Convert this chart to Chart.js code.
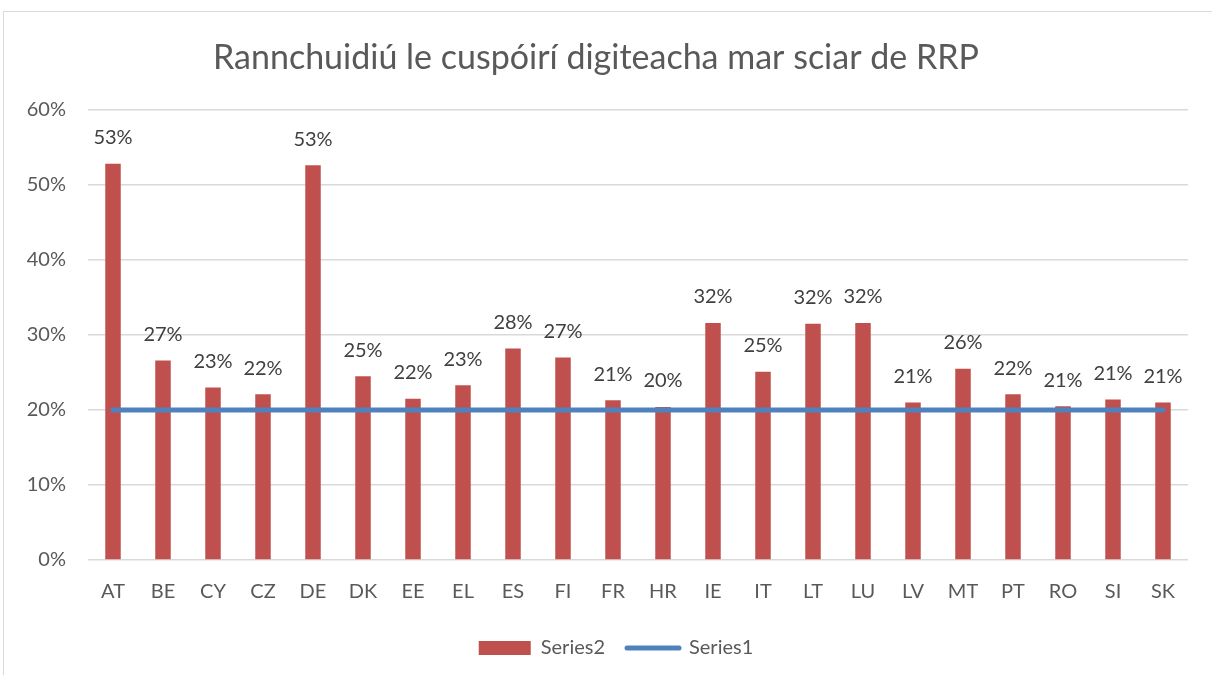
<!DOCTYPE html>
<html>
<head>
<meta charset="utf-8">
<script src="https://cdn.jsdelivr.net/npm/chart.js@4"></script>
<style>
  body { margin: 0; background: #fff; }
  #frame { position: absolute; left: 3px; top: 11px; width: 1212px; height: 670px; border: 1px solid #d9d9d9; }
  #wrap { position: absolute; left: 0; top: 0; width: 1208px; height: 664px; }
</style>
</head>
<body>
<div id="frame"><div id="wrap"><canvas id="chart"></canvas></div></div>
<script>
const countries = ["AT", "BE", "CY", "CZ", "DE", "DK", "EE", "EL", "ES", "FI", "FR",
  "HR", "IE", "IT", "LT", "LU", "LV", "MT", "PT", "RO", "SI", "SK"];
// Series2: digital share per country
const series2 = [0.528, 0.266, 0.230, 0.221, 0.526, 0.245, 0.215, 0.233, 0.282, 0.270, 0.213,
  0.204, 0.316, 0.251, 0.315, 0.316, 0.210, 0.255, 0.221, 0.205, 0.214, 0.210];
// Series1: 20% target
const series1 = [0.20, 0.20, 0.20, 0.20, 0.20, 0.20, 0.20, 0.20, 0.20, 0.20, 0.20,
  0.20, 0.20, 0.20, 0.20, 0.20, 0.20, 0.20, 0.20, 0.20, 0.20, 0.20];
const yTicks = [0, 0.1, 0.2, 0.3, 0.4, 0.5, 0.6];

const FONT = "Lato, 'Open Sans', sans-serif";

// value labels above the bars
const barLabels = {
  id: "barLabels",
  afterLayout(chart) {
    // nudge the legend a bit right, like the original
    chart.legend.left += 20;
    chart.legend.right += 20;
  },
  afterDatasetsDraw(chart) {
    const ctx = chart.ctx;
    const meta = chart.getDatasetMeta(0);
    ctx.save();
    ctx.font = "20px " + FONT;
    ctx.fillStyle = "#404040";
    ctx.textAlign = "center";
    ctx.textBaseline = "middle";
    meta.data.forEach((bar, i) => {
      ctx.fillText(Math.round(series2[i] * 100) + "%", bar.x, bar.y - 26);
    });
    ctx.restore();
  }
};

new Chart(document.getElementById("chart"), {
  data: {
    labels: countries,
    datasets: [
      {
        type: "bar",
        label: "Series2",
        data: series2,
        backgroundColor: "#C0504D",
        borderWidth: 0,
        barPercentage: 0.31,
        categoryPercentage: 1,
        order: 1
      },
      {
        type: "line",
        label: "Series1",
        data: series1,
        borderColor: "#4F81BD",
        backgroundColor: "#4F81BD",
        borderWidth: 5,
        borderCapStyle: "round",
        pointRadius: 0,
        pointHoverRadius: 0,
        order: 0
      }
    ]
  },
  options: {
    responsive: true,
    maintainAspectRatio: false,
    animation: false,
    layout: { padding: { left: 0, right: 24, top: 0, bottom: 8 } },
    plugins: {
      title: {
        display: true,
        text: "Rannchuidiú le cuspóirí digiteacha mar sciar de RRP",
        color: "#595959",
        font: { family: FONT, size: 34, weight: "normal" },
        padding: { top: 26, bottom: 31 }
      },
      legend: {
        position: "bottom",
        labels: {
          color: "#595959",
          font: { family: FONT, size: 20 },
          usePointStyle: true,
          pointStyleWidth: 52,
          boxHeight: 14,
          padding: 22,
          generateLabels(chart) {
            const items = Chart.defaults.plugins.legend.labels.generateLabels(chart);
            items.forEach(it => {
              if (it.datasetIndex === 0) { it.pointStyle = "rect"; it.lineWidth = 0; }
              else { it.pointStyle = "line"; it.lineWidth = 5; it.lineCap = "round"; }
            });
            return items.sort((a, b) => a.datasetIndex - b.datasetIndex);
          }
        }
      },
      tooltip: { enabled: false }
    },
    scales: {
      x: {
        grid: { display: false },
        border: { display: false },
        ticks: { color: "#595959", font: { family: FONT, size: 20 }, padding: 12 }
      },
      y: {
        min: 0,
        max: 0.6,
        afterBuildTicks(axis) { axis.ticks = yTicks.map(v => ({ value: v })); },
        afterFit(axis) { axis.width = 84; },
        grid: { color: "#d9d9d9", lineWidth: 1.5, drawTicks: false },
        border: { display: false },
        ticks: {
          color: "#595959",
          font: { family: FONT, size: 20 },
          padding: 22,
          callback: v => Math.round(v * 100) + "%"
        }
      }
    }
  },
  plugins: [barLabels]
});
</script>
</body>
</html>
